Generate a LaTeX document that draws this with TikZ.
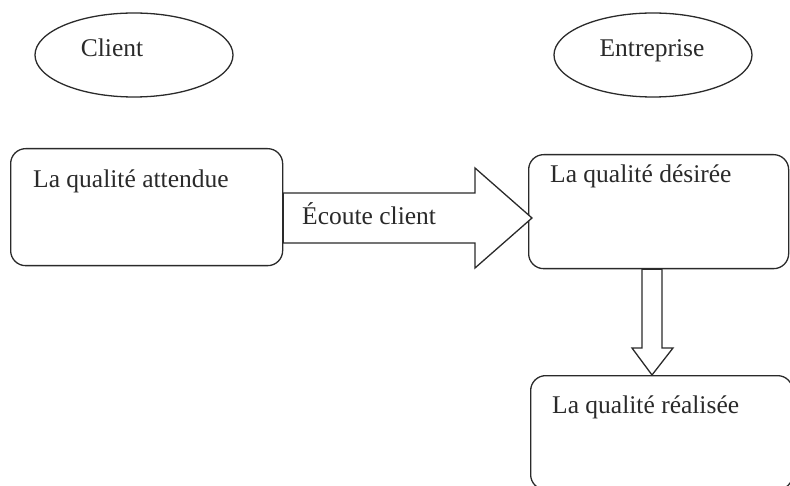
\documentclass[tikz,border=0pt]{standalone}
\usepackage{fontspec}
\setmainfont{Liberation Serif}
\usetikzlibrary{shapes.geometric}
\definecolor{ink}{HTML}{2A2A2A}
\tikzset{
  actor/.style={ellipse, draw=ink, line width=1.3pt, minimum width=198pt, minimum height=84pt, inner sep=0pt},
  qbox/.style={draw=ink, line width=1.3pt, rounded corners=15pt, inner sep=0pt, anchor=north west},
  lbl/.style={anchor=base west, inner sep=0pt, text=ink, font=\fontsize{25.5pt}{30pt}\selectfont},
  clbl/.style={anchor=base, inner sep=0pt, text=ink, font=\fontsize{25.5pt}{30pt}\selectfont},
  blockarrow/.style={draw=ink, line width=1.3pt, fill=white, line join=miter}
}
\begin{document}
\begin{tikzpicture}[x=1pt, y=-1pt]
  \useasboundingbox (0,0) rectangle (790,486);
  \clip (0,0) rectangle (790,486);

  % actors
  \node[actor] (client) at (134,55) {};
  \node[clbl] (clienttxt) at (112,57) {Client};
  \node[actor] (entreprise) at (653,55) {};
  \node[clbl] (entreprisetxt) at (652,57) {Entreprise};

  % quality boxes
  \node[qbox, minimum width=272pt, minimum height=117pt] (attendue) at (10,148) {};
  \node[lbl] (attendueTxt) at (33,188) {La qualité attendue};

  \node[qbox, minimum width=260pt, minimum height=114pt] (desiree) at (528,154) {};
  \node[lbl] (desireeTxt) at (550,183) {La qualité désirée};

  \node[qbox, minimum width=262pt, minimum height=114pt] (realisee) at (530,375) {};
  \node[lbl] (realiseeTxt) at (552,413) {La qualité réalisée};

  % block arrow: customer listening
  \path (attendue.east |- 0,193) coordinate (ra1)
        (attendue.east |- 0,243) coordinate (ra2)
        (desiree.west |- 0,218) coordinate (ratip);
  \draw[blockarrow] (ra1) -- (475,193) -- (475,168) -- ([xshift=4pt]ratip)
        -- (475,268) -- (475,243) -- (ra2) -- cycle;
  \node[lbl] (ecoute) at (302,225) {Écoute client};

  % block arrow: desired to realised
  \path (desiree.south -| 642,0) coordinate (da1)
        (desiree.south -| 662,0) coordinate (da2)
        (realisee.north -| 652,0) coordinate (datip);
  \draw[blockarrow] (da1) -- (642,348) -- (632,348) -- (datip)
        -- (673,348) -- (662,348) -- (da2) -- cycle;
\end{tikzpicture}
\end{document}
